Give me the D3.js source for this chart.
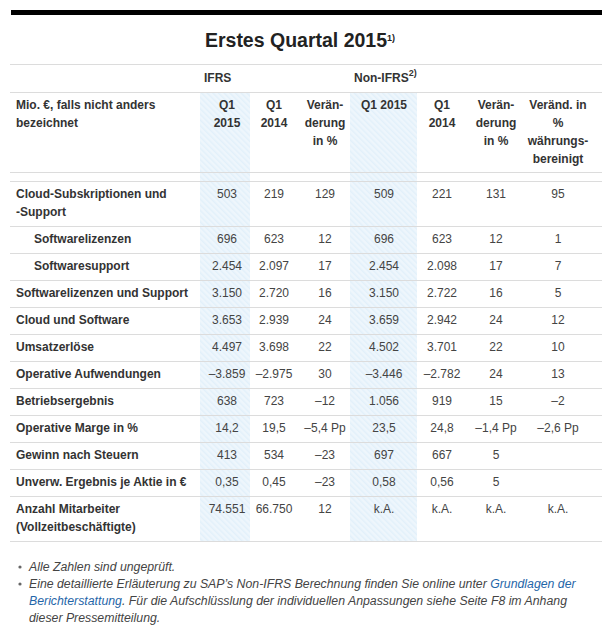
<!DOCTYPE html>
<html>
<head>
<meta charset="utf-8">
<script src="https://cdn.jsdelivr.net/npm/d3@7"></script>
<style>
  body { margin: 0; background: #fff; }
  text { font-family: "Liberation Sans", Arial, sans-serif; }
</style>
</head>
<body>
<script>
// table content
const title = "Erstes Quartal 2015";
const groupHeaders = [{t: "IFRS", sup: ""}, {t: "Non-IFRS", sup: "2)"}];
const stubHeader = ["Mio. €, falls nicht anders", "bezeichnet"];
const colHeaders = [
    ["Q1", "2015"], ["Q1", "2014"], ["Verän-", "derung", "in %"],
    ["Q1 2015"], ["Q1", "2014"], ["Verän-", "derung", "in %"],
    ["Veränd. in", "%", "währungs-", "bereinigt"]
];
const rowLabels = [
    ["Cloud-Subskriptionen und", "-Support"],
    ["Softwarelizenzen"],
    ["Softwaresupport"],
    ["Softwarelizenzen und Support"],
    ["Cloud und Software"],
    ["Umsatzerlöse"],
    ["Operative Aufwendungen"],
    ["Betriebsergebnis"],
    ["Operative Marge in %"],
    ["Gewinn nach Steuern"],
    ["Unverw. Ergebnis je Aktie in €"],
    ["Anzahl Mitarbeiter", "(Vollzeitbeschäftigte)"]
];
const subRows = ["Softwarelizenzen", "Softwaresupport"];

const ifrsQ1_2015    = ["503", "696", "2.454", "3.150", "3.653", "4.497", "–3.859", "638", "14,2", "413", "0,35", "74.551"];
const ifrsQ1_2014    = ["219", "623", "2.097", "2.720", "2.939", "3.698", "–2.975", "723", "19,5", "534", "0,45", "66.750"];
const ifrsChange     = ["129", "12", "17", "16", "24", "22", "30", "–12", "–5,4 Pp", "–23", "–23", "12"];
const nonIfrsQ1_2015 = ["509", "696", "2.454", "3.150", "3.659", "4.502", "–3.446", "1.056", "23,5", "697", "0,58", "k.A."];
const nonIfrsQ1_2014 = ["221", "623", "2.098", "2.722", "2.942", "3.701", "–2.782", "919", "24,8", "667", "0,56", "k.A."];
const nonIfrsChange  = ["131", "12", "17", "16", "24", "22", "24", "15", "–1,4 Pp", "5", "5", "k.A."];
const nonIfrsChangeFx= ["95", "1", "7", "5", "12", "10", "13", "–2", "–2,6 Pp", "", "", "k.A."];

const footnotes = [
    [{t: "Alle Zahlen sind ungeprüft."}],
    [{t: "Eine detaillierte Erläuterung zu SAP’s Non-IFRS Berechnung finden Sie online unter "}, {t: "Grundlagen der", link: true}],
    [{t: "Berichterstattung", link: true}, {t: ". Für die Aufschlüsslung der individuellen Anpassungen siehe Seite F8 im Anhang"}],
    [{t: "dieser Pressemitteilung."}]
];

const columns = [ifrsQ1_2015, ifrsQ1_2014, ifrsChange, nonIfrsQ1_2015, nonIfrsQ1_2014, nonIfrsChange, nonIfrsChangeFx];

// layout
const width = 611, height = 636;
const left = 10, right = 602;
const colCenters = [227, 274, 325, 384, 442, 496, 558];
const shadeEdges = [[200, 250], [350, 417]];
const bodyTop = 181;
const lineH = 18;

const colIdx = d3.range(columns.length);
const x = d3.scaleOrdinal().domain(colIdx).range(colCenters);

// row tops from label line counts
let tops = [], acc = bodyTop;
rowLabels.forEach(l => { tops.push(acc); acc += 9 + lineH * l.length; });
const bodyBottom = acc;
const y = d3.scaleOrdinal().domain(d3.range(rowLabels.length)).range(tops);

const svg = d3.select("body").append("svg")
    .attr("width", width)
    .attr("height", height);

const defs = svg.append("defs");
const pat = defs.append("pattern")
    .attr("id", "hatch")
    .attr("width", 4).attr("height", 4)
    .attr("patternUnits", "userSpaceOnUse")
    .attr("patternTransform", "rotate(-45)");
pat.append("rect").attr("width", 4).attr("height", 4).attr("fill", "#eef6fc");
pat.append("rect").attr("width", 1.5).attr("height", 4).attr("fill", "#e2f0fa");

// shaded columns
svg.selectAll("rect.shade")
    .data(shadeEdges)
    .join("rect")
    .attr("class", "shade")
    .attr("x", d => d[0])
    .attr("width", d => d[1] - d[0])
    .attr("y", 92)
    .attr("height", bodyBottom - 92)
    .attr("fill", "url(#hatch)");

// top bar
svg.append("rect")
    .attr("x", 11).attr("y", 10)
    .attr("width", right - 11).attr("height", 5)
    .attr("fill", "#000");

// title
const tt = svg.append("text")
    .attr("x", 300).attr("y", 47)
    .attr("text-anchor", "middle")
    .attr("fill", "#222")
    .style("font-size", "19.5px")
    .style("font-weight", "bold");
tt.append("tspan").text(title);
tt.append("tspan").attr("dy", -6).style("font-size", "9px").text("1)");

// horizontal rules
const rules = [64, 91.5, 172, bodyTop].concat(tops.slice(1), [bodyBottom]);
svg.selectAll("line.rule")
    .data(rules)
    .join("line")
    .attr("class", "rule")
    .attr("x1", left).attr("x2", right)
    .attr("y1", d => Math.round(d) + 0.5).attr("y2", d => Math.round(d) + 0.5)
    .attr("stroke", "#dcdcdc");

// group headers (IFRS / Non-IFRS)
svg.selectAll("text.group")
    .data(groupHeaders)
    .join("text")
    .attr("class", "group")
    .attr("x", (d, i) => shadeEdges[i][0] + 4)
    .attr("y", 82)
    .attr("fill", "#333")
    .style("font-size", "12px")
    .style("font-weight", "bold")
    .each(function(d) {
        const t = d3.select(this);
        t.append("tspan").text(d.t);
        if (d.sup) t.append("tspan").attr("dy", -6).style("font-size", "9px").text(d.sup);
    });

// column headers
svg.append("text")
    .attr("x", 16).attr("y", 109)
    .attr("fill", "#333")
    .style("font-size", "12px")
    .style("font-weight", "bold")
    .selectAll("tspan")
    .data(stubHeader)
    .join("tspan")
    .attr("x", 16)
    .attr("dy", (d, i) => i ? lineH : 0)
    .text(d => d);

svg.selectAll("text.colhead")
    .data(colHeaders)
    .join("text")
    .attr("class", "colhead")
    .attr("y", 109)
    .attr("text-anchor", "middle")
    .attr("fill", "#333")
    .style("font-size", "12px")
    .style("font-weight", "bold")
    .each(function(lines, i) {
        d3.select(this).selectAll("tspan")
            .data(lines)
            .join("tspan")
            .attr("x", x(i))
            .attr("dy", (d, k) => k ? lineH : 0)
            .text(d => d);
    });

// row labels
svg.selectAll("text.label")
    .data(rowLabels)
    .join("text")
    .attr("class", "label")
    .attr("y", (d, i) => y(i) + 17)
    .attr("fill", "#333")
    .style("font-size", "12px")
    .style("font-weight", "bold")
    .each(function(lines) {
        const lx = subRows.includes(lines[0]) ? 34 : 16;
        d3.select(this).selectAll("tspan")
            .data(lines)
            .join("tspan")
            .attr("x", lx)
            .attr("dy", (d, k) => k ? lineH : 0)
            .text(d => d);
    });

// values
columns.forEach((col, c) => {
    svg.selectAll("text.v" + c)
        .data(col)
        .join("text")
        .attr("class", "v" + c)
        .attr("x", x(c))
        .attr("y", (d, i) => y(i) + 17)
        .attr("text-anchor", "middle")
        .attr("fill", "#444")
        .style("font-size", "12px")
        .text(d => d);
});

// footnotes
const fy = d3.scaleLinear().domain([0, 1]).range([571, 588]);
svg.selectAll("circle.bullet")
    .data([0, 1])
    .join("circle")
    .attr("class", "bullet")
    .attr("cx", 20).attr("cy", i => fy(i) - 4)
    .attr("r", 1.6)
    .attr("fill", "#666");

svg.selectAll("text.foot")
    .data(footnotes)
    .join("text")
    .attr("class", "foot")
    .attr("x", 29)
    .attr("y", (d, i) => fy(i))
    .attr("fill", "#444")
    .style("font-size", "12.3px")
    .style("font-style", "italic")
    .each(function(parts) {
        d3.select(this).selectAll("tspan")
            .data(parts)
            .join("tspan")
            .attr("fill", d => d.link ? "#1f66a8" : null)
            .text(d => d.t);
    });
</script>
</body>
</html>
